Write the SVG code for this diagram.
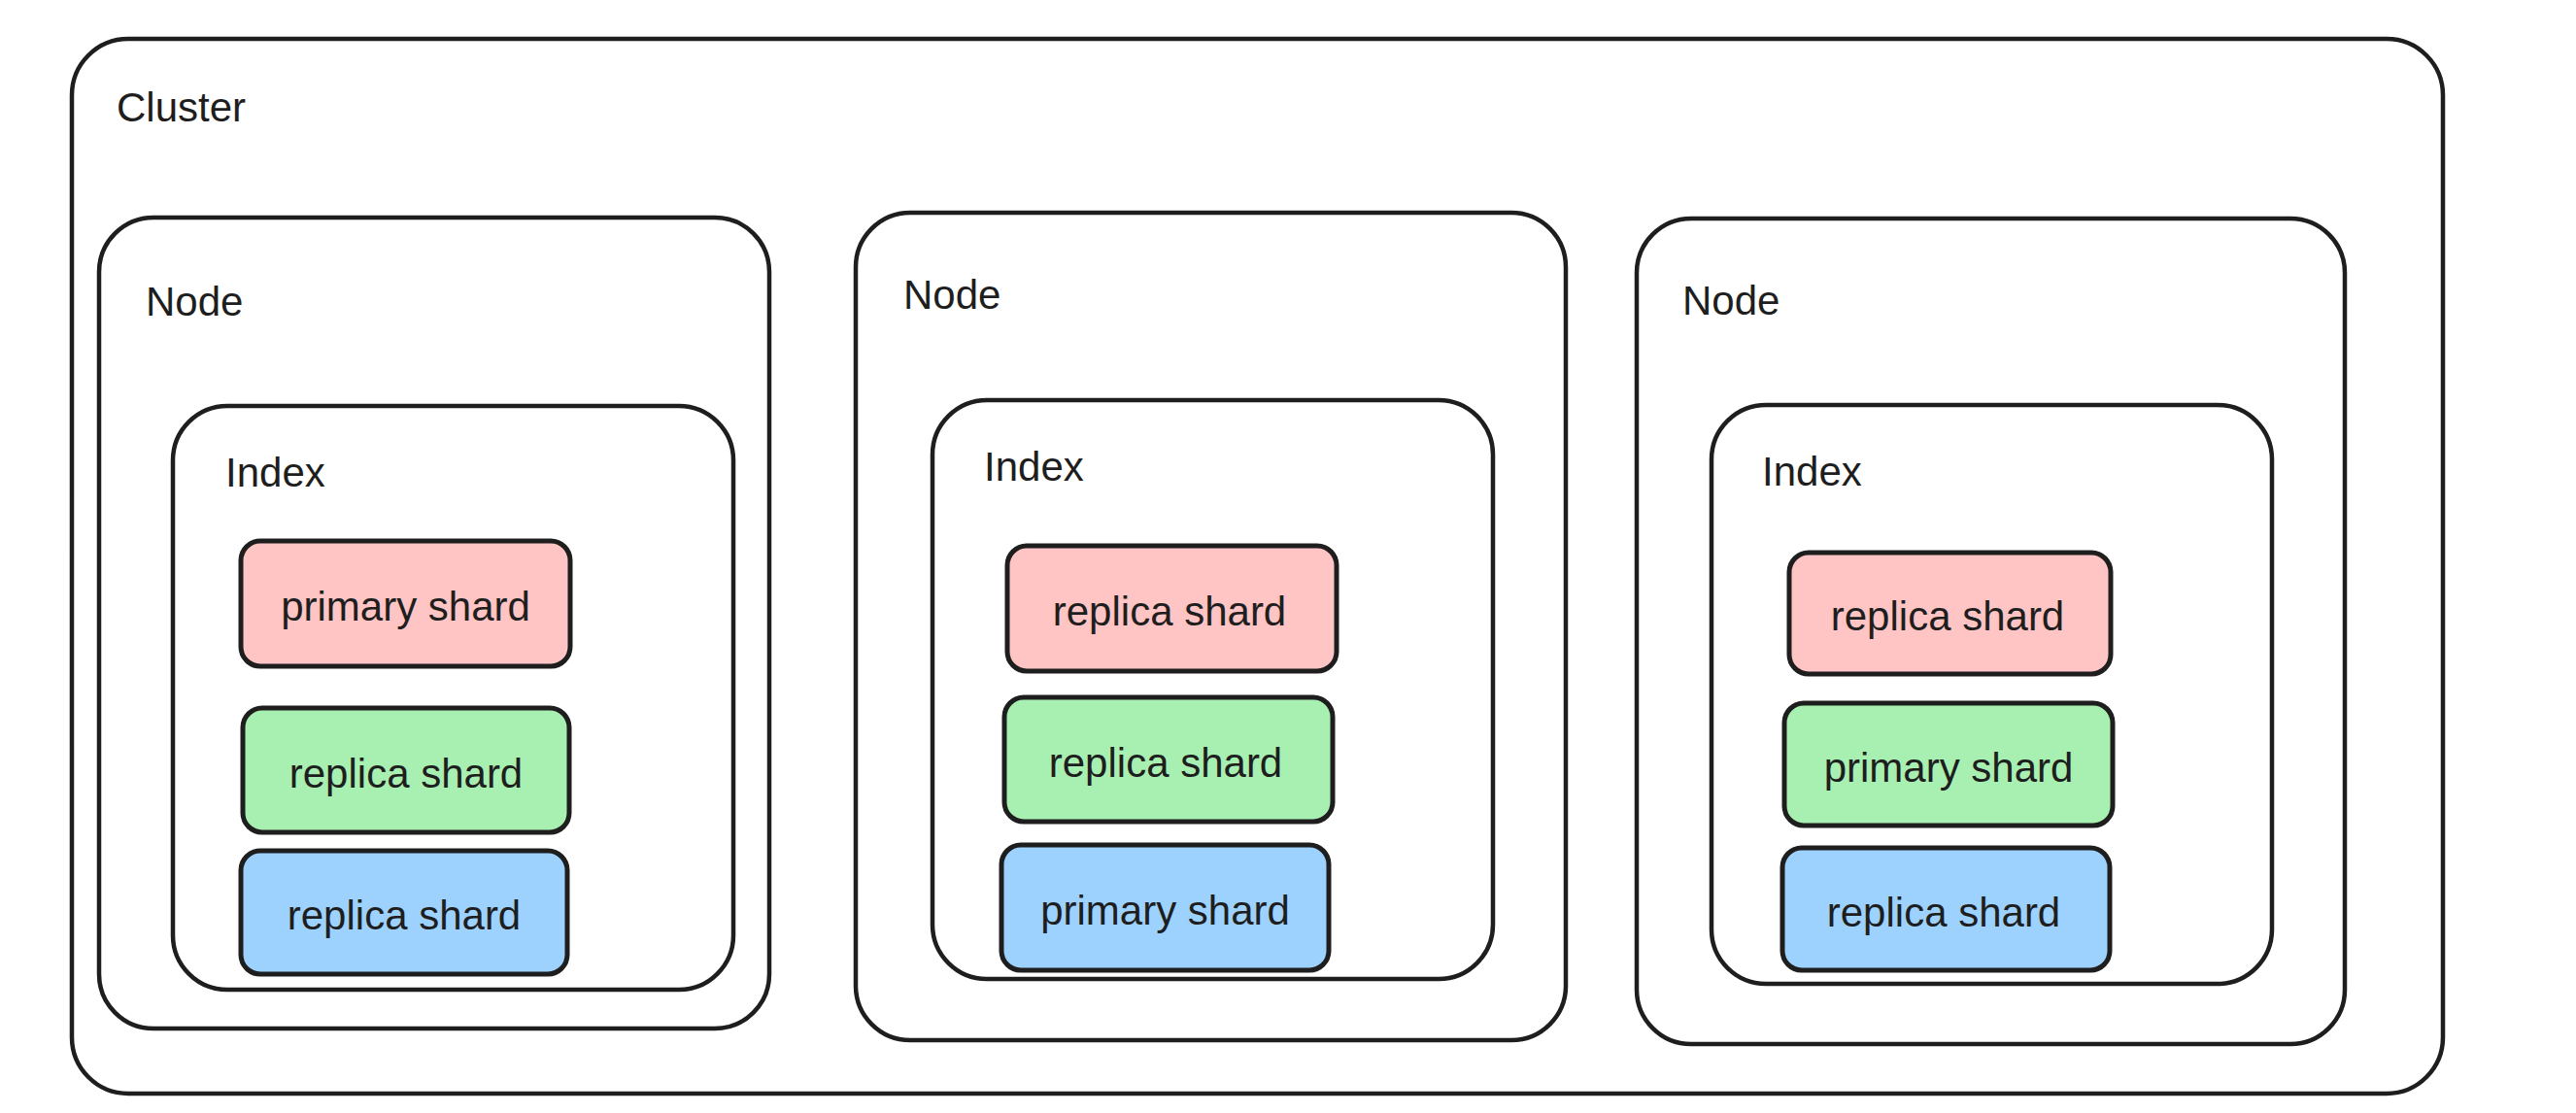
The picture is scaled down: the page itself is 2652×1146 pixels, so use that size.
<svg xmlns="http://www.w3.org/2000/svg" width="2652" height="1146" viewBox="0 0 2652 1146">
  <style>
    .box { fill: #ffffff; stroke: #1e1e1e; stroke-width: 4.5; }
    .shard { stroke: #1e1e1e; stroke-width: 5; }
    .pink { fill: #ffc4c4; }
    .green { fill: #a8f0b1; }
    .blue { fill: #9dd2ff; }
    .label { font-family: "Liberation Sans", Arial, sans-serif; font-size: 42px; fill: #1e1e1e; }
    .stxt { font-family: "Liberation Sans", Arial, sans-serif; font-size: 42px; fill: #1e1e1e; text-anchor: middle; }
  </style>
  <rect width="2652" height="1146" fill="#ffffff"/>

  <g id="cluster">
    <rect class="box" x="74" y="40" width="2441" height="1086" rx="58"/>
    <text class="label" x="120" y="125">Cluster</text>
  </g>

  <g id="node1">
    <rect class="box" x="102" y="224" width="690" height="835" rx="56"/>
    <text class="label" x="150" y="325">Node</text>
  </g>
  <g id="index1">
    <rect class="box" x="178" y="418" width="577" height="601" rx="56"/>
    <text class="label" x="232" y="501">Index</text>
  </g>
  <g id="shard1a">
    <rect class="shard pink" x="248" y="557" width="339" height="129" rx="20"/>
    <text class="stxt" x="417.5" y="639">primary shard</text>
  </g>
  <g id="shard1b">
    <rect class="shard green" x="250" y="729" width="336" height="128" rx="20"/>
    <text class="stxt" x="418" y="810.5">replica shard</text>
  </g>
  <g id="shard1c">
    <rect class="shard blue" x="248" y="876" width="336" height="127" rx="20"/>
    <text class="stxt" x="416" y="957">replica shard</text>
  </g>

  <g id="node2">
    <rect class="box" x="881" y="219" width="731" height="852" rx="56"/>
    <text class="label" x="930" y="318">Node</text>
  </g>
  <g id="index2">
    <rect class="box" x="960" y="412" width="577" height="596" rx="56"/>
    <text class="label" x="1013" y="495">Index</text>
  </g>
  <g id="shard2a">
    <rect class="shard pink" x="1037" y="562" width="339" height="129" rx="20"/>
    <text class="stxt" x="1204" y="644">replica shard</text>
  </g>
  <g id="shard2b">
    <rect class="shard green" x="1034" y="718" width="338" height="128" rx="20"/>
    <text class="stxt" x="1200" y="799.5">replica shard</text>
  </g>
  <g id="shard2c">
    <rect class="shard blue" x="1031" y="870" width="337" height="129" rx="20"/>
    <text class="stxt" x="1199.5" y="952">primary shard</text>
  </g>

  <g id="node3">
    <rect class="box" x="1685" y="225" width="729" height="850" rx="56"/>
    <text class="label" x="1732" y="324">Node</text>
  </g>
  <g id="index3">
    <rect class="box" x="1762" y="417" width="577" height="596" rx="56"/>
    <text class="label" x="1814" y="500">Index</text>
  </g>
  <g id="shard3a">
    <rect class="shard pink" x="1842" y="569" width="331" height="125" rx="20"/>
    <text class="stxt" x="2005" y="649">replica shard</text>
  </g>
  <g id="shard3b">
    <rect class="shard green" x="1837" y="724" width="338" height="126" rx="20"/>
    <text class="stxt" x="2006" y="804.5">primary shard</text>
  </g>
  <g id="shard3c">
    <rect class="shard blue" x="1835" y="873" width="337" height="126" rx="20"/>
    <text class="stxt" x="2001" y="953.5">replica shard</text>
  </g>

  <g id="connectors"></g>
</svg>
